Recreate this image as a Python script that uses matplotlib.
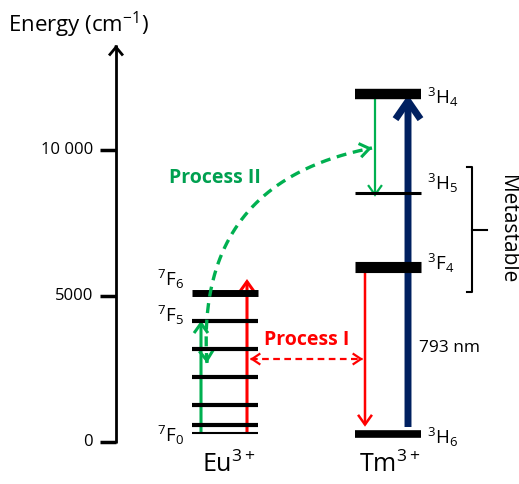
import numpy as np
import matplotlib.pyplot as plt
from matplotlib.patches import FancyArrowPatch

plt.rcParams['font.family'] = ['Open Sans', 'DejaVu Sans']
plt.rcParams['mathtext.fontset'] = 'custom'
plt.rcParams['mathtext.rm'] = 'Open Sans'
plt.rcParams['mathtext.it'] = 'Open Sans:italic'
plt.rcParams['mathtext.bf'] = 'Open Sans:bold'

# energy levels in cm-1
eu_levels = [318, 592, 1257, 2226, 3185, 4154, 5113]      # 7F0 .. 7F6
eu_lw = [1.5, 3, 3, 3, 3, 3, 5]
eu_labels = {0: r'$\mathregular{^7F_0}$', 5: r'$\mathregular{^7F_5}$', 6: r'$\mathregular{^7F_6}$'}
tm_levels = [274, 6003, 8517, 11908]                      # 3H6, 3F4, 3H5, 3H4
tm_lw = [5.5, 8, 2.2, 7.5]
tm_labels = [r'$\mathregular{^3H_6}$', r'$\mathregular{^3F_4}$', r'$\mathregular{^3H_5}$', r'$\mathregular{^3H_4}$']
axis_ticks = [0, 5000, 10000]
axis_ticklabels = ['0', '5000', '10 000']
axis_top = 13596

# transitions (cm-1)
eu_green_up = (318, 4154)
eu_red_up = (318, 5582)
tm_red_down = (6003, 524)
tm_green_down = (11908, 8400)
pump = (514, 11884)
process1_energy = 2842
process2_ends = (2705, 10068)

green = '#00b050'
red = '#ff0000'
navy = '#002060'

# pixel layout: y pixel = Y0 - K * energy
K = 0.0292
Y0 = 442.0
W, H = 519, 484


def en(ypix):
    return (Y0 - ypix) / K


fig = plt.figure(figsize=(W / 100, H / 100), dpi=100)
ax = fig.add_axes([0, 0, 1, 1])
ax.set_xlim(0, W)
ax.set_ylim(en(H), en(0))
ax.axis('off')


def arrow(x0, e0, x1, e1, color, lw, hl, hw, ls='-'):
    p = FancyArrowPatch((x0, e0), (x1, e1),
                        arrowstyle=f'->,head_length={hl},head_width={hw}',
                        color=color, lw=lw, ls=ls, shrinkA=0, shrinkB=0,
                        mutation_scale=1, capstyle='butt', joinstyle='miter')
    ax.add_patch(p)


def head(x, e, ux, uy, color, lw, hl, hw):
    # ux, uy: direction in image pixels (y down)
    n = np.hypot(ux, uy)
    ux, uy = ux / n, uy / n
    arrow(x - ux, e + uy / K, x, e, color, lw, hl, hw)


# energy axis
ax.plot([116, 116], [en(Y0 + 1), axis_top], color='black', lw=2, solid_capstyle='butt')
head(116, axis_top, 0, -1, 'black', 2, 6, 5)
for t, lab in zip(axis_ticks, axis_ticklabels):
    ax.plot([100, 116], [t, t], color='black', lw=2.5, solid_capstyle='butt')
    ax.text(93, t, lab, ha='right', va='center', fontsize=12)
ax.text(8, en(25), r'Energy (cm$\mathregular{^{-1}}$)', ha='left', va='center', fontsize=16)

# Eu levels
for i, (e, lw) in enumerate(zip(eu_levels, eu_lw)):
    ax.plot([192, 258], [e, e], color='black', lw=lw, solid_capstyle='butt')
eu_off = {0: 3, 5: -5, 6: -13}
for i, lab in eu_labels.items():
    ax.text(184, eu_levels[i] - eu_off[i] / K, lab, ha='right', va='center', fontsize=13.5)

# Tm levels
for e, lw in zip(tm_levels, tm_lw):
    ax.plot([355, 421], [e, e], color='black', lw=lw, solid_capstyle='butt')
tm_off = [3.5, -3, -10, 3]
for e, lab, o in zip(tm_levels, tm_labels, tm_off):
    ax.text(427, e - o / K, lab, ha='left', va='center', fontsize=13.5)

ax.text(229, en(465), r'Eu$\mathregular{^{3+}}$', ha='center', va='center', fontsize=18)
ax.text(390, en(465), r'Tm$\mathregular{^{3+}}$', ha='center', va='center', fontsize=18)

# Eu arrows
arrow(201, eu_green_up[0], 201, eu_green_up[1], green, 2.2, 7, 5)
arrow(247, eu_red_up[0], 247, eu_red_up[1], red, 2.2, 7, 5)

# Tm arrows
arrow(365, tm_red_down[0], 365, tm_red_down[1], red, 1.8, 7, 5)
arrow(375, tm_green_down[0], 375, tm_green_down[1], green, 1.6, 7, 5)
arrow(408, pump[0], 408, pump[1], navy, 5, 13, 9)

# Process I (dashed, both heads)
ax.plot([251, 362], [process1_energy] * 2, color=red, lw=1.6, ls=(0, (3, 2)))
head(250, process1_energy, -1, 0, red, 1.6, 6, 4)
head(363, process1_energy, 1, 0, red, 1.6, 6, 4)
ax.text(307, en(340), 'Process I', color=red, fontsize=14, fontweight='bold',
        ha='center', va='center')

# Process II (dashed curve, both heads)
ax_, ay_ = 207, Y0 - K * process2_ends[0]
bx_, by_ = 372, Y0 - K * process2_ends[1]
cx_, cy_ = 194.5, 182.5
t = np.linspace(0, 1, 200)
xs = (1 - t) ** 2 * ax_ + 2 * t * (1 - t) * cx_ + t ** 2 * bx_
ys = (1 - t) ** 2 * ay_ + 2 * t * (1 - t) * cy_ + t ** 2 * by_
ax.plot(xs, en(ys), color=green, lw=2.4, ls=(0, (3, 2)))
head(ax_, process2_ends[0], ax_ - cx_, ay_ - cy_, green, 2.2, 7, 5)
head(bx_, process2_ends[1], bx_ - cx_, by_ - cy_, green, 2.2, 7, 5)
ax.text(215, en(178), 'Process II', color='#00a050', fontsize=14, fontweight='bold',
        ha='center', va='center')

ax.text(419, en(348), '793 nm', ha='left', va='center', fontsize=12.5)

# metastable bracket
ax.plot([466.5, 471.5, 471.5, 466.5], [en(167), en(167), en(292), en(292)],
        color='black', lw=1.5)
ax.plot([471.5, 487], [en(230), en(230)], color='black', lw=1.5)
ax.text(507, en(229), 'Metastable', rotation=270, ha='center', va='center', fontsize=15)

fig.savefig('out.png', dpi=100)
